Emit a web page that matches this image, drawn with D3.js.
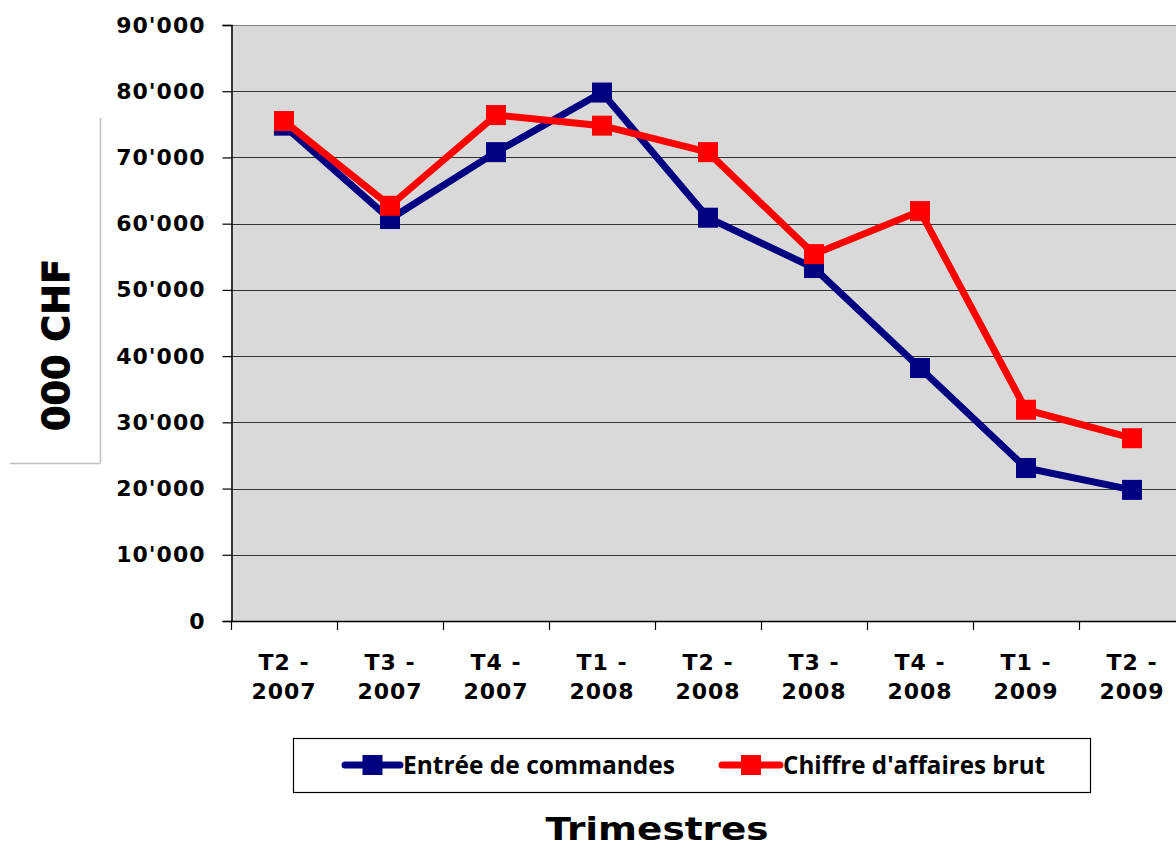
<!DOCTYPE html>
<html>
<head>
<meta charset="utf-8">
<script src="https://cdn.jsdelivr.net/npm/d3@7"></script>
<style>
  body { margin: 0; background: #fff; }
  svg { display: block; }
</style>
</head>
<body>
<div id="chart"></div>
<script>
var categories = [['T2 -', '2007'], ['T3 -', '2007'], ['T4 -', '2007'], ['T1 -', '2008'],
                  ['T2 -', '2008'], ['T3 -', '2008'], ['T4 -', '2008'], ['T1 -', '2009'], ['T2 -', '2009']];
var entreeCommandes = [74800, 60700, 70800, 79800, 60900, 53300, 38200, 23100, 19800];
var chiffreAffaires = [75500, 62700, 76400, 74800, 70800, 55400, 61900, 31900, 27600];
var yTicks = [0, 10000, 20000, 30000, 40000, 50000, 60000, 70000, 80000, 90000];
var seriesNames = ['Entrée de commandes', "Chiffre d'affaires brut"];
var seriesColors = ['#000080', '#ff0000'];

var width = 1176, height = 850;
var plot = {left: 231, top: 25, right: 1185, bottom: 621};

var svg = d3.select('#chart').append('svg')
    .attr('width', width)
    .attr('height', height);

var keys = categories.map(function(d, i) { return i; });
var x = d3.scaleBand().domain(keys).range([plot.left, plot.right]);
var y = d3.scaleLinear().domain([0, 90000]).range([plot.bottom, plot.top]);

// plot background
svg.append('rect')
    .attr('x', plot.left).attr('y', plot.top)
    .attr('width', plot.right - plot.left).attr('height', plot.bottom - plot.top)
    .attr('fill', '#d9d9d9');

// gridlines
svg.append('g').selectAll('line')
    .data(yTicks.filter(function(d) { return d > 0; }))
    .enter().append('line')
    .attr('x1', plot.left).attr('x2', plot.right)
    .attr('y1', function(d) { return Math.round(y(d)) + 0.5; })
    .attr('y2', function(d) { return Math.round(y(d)) + 0.5; })
    .attr('stroke', function(d) { return d === 90000 ? '#808080' : '#333'; })
    .attr('stroke-width', 1.2);

// y axis
var fmt = function(d) { return d === 0 ? '0' : d3.format(',')(d).replace(/,/g, "'"); };
var yAxis = svg.append('g')
    .attr('transform', 'translate(' + (plot.left + 0.5) + ',0)')
    .call(d3.axisLeft(y).tickValues(yTicks).tickSize(9).tickPadding(17).tickFormat(fmt));
yAxis.select('.domain').attr('stroke', '#000').attr('stroke-width', 1.5);
yAxis.selectAll('.tick line').attr('stroke', '#000').attr('stroke-width', 1.2);
yAxis.selectAll('.tick text')
    .attr('fill', '#000')
    .style('font-family', 'DejaVu Sans')
    .style('font-weight', 'bold')
    .style('font-size', '22px')
    .style('letter-spacing', '1px');

// x axis (ticks on band boundaries)
var xg = svg.append('g');
xg.append('line')
    .attr('x1', plot.left).attr('x2', plot.right)
    .attr('y1', plot.bottom + 0.5).attr('y2', plot.bottom + 0.5)
    .attr('stroke', '#000').attr('stroke-width', 1.5);
xg.selectAll('.xtick')
    .data(keys)
    .enter().append('line')
    .attr('class', 'xtick')
    .attr('x1', function(d) { return Math.round(x(d)) + 0.5; })
    .attr('x2', function(d) { return Math.round(x(d)) + 0.5; })
    .attr('y1', plot.bottom).attr('y2', plot.bottom + 9)
    .attr('stroke', '#000').attr('stroke-width', 1.2);
var xl = xg.selectAll('.xlabel')
    .data(categories)
    .enter().append('text')
    .attr('class', 'xlabel')
    .attr('text-anchor', 'middle')
    .style('font-family', 'DejaVu Sans')
    .style('font-weight', 'bold')
    .style('font-size', '22px')
    .style('letter-spacing', '1px');
xl.append('tspan')
    .attr('x', function(d, i) { return x(i) + x.bandwidth() / 2; })
    .attr('y', 670)
    .text(function(d) { return d[0]; });
xl.append('tspan')
    .attr('x', function(d, i) { return x(i) + x.bandwidth() / 2; })
    .attr('y', 699)
    .text(function(d) { return d[1]; });

// y title with its partial frame
svg.append('line').attr('x1', 100.5).attr('x2', 100.5).attr('y1', 118).attr('y2', 463)
    .attr('stroke', '#c0c0c0').attr('stroke-width', 1.5);
svg.append('line').attr('x1', 10).attr('x2', 100.5).attr('y1', 463.5).attr('y2', 463.5)
    .attr('stroke', '#c0c0c0').attr('stroke-width', 1.5);
svg.append('text')
    .attr('transform', 'translate(69,345) rotate(-90)')
    .attr('text-anchor', 'middle')
    .attr('textLength', 172)
    .attr('lengthAdjust', 'spacingAndGlyphs')
    .style('font-family', 'DejaVu Sans')
    .style('font-weight', 'bold')
    .style('font-size', '38px')
    .style('stroke', '#000')
    .style('stroke-width', '1px')
    .text('000 CHF');

// series
var line = d3.line()
    .x(function(d, i) { return x(i) + x.bandwidth() / 2; })
    .y(function(d) { return y(d); });

var allSeries = [entreeCommandes, chiffreAffaires];
allSeries.forEach(function(values, s) {
  var g = svg.append('g');
  g.append('path')
      .datum(values)
      .attr('fill', 'none')
      .attr('stroke', seriesColors[s])
      .attr('stroke-width', 7)
      .attr('stroke-linejoin', 'miter')
      .attr('d', line);
  g.selectAll('rect')
      .data(values)
      .enter().append('rect')
      .attr('x', function(d, i) { return x(i) + x.bandwidth() / 2 - 10; })
      .attr('y', function(d) { return y(d) - 10; })
      .attr('width', 20).attr('height', 20)
      .attr('fill', seriesColors[s]);
});

// legend
var legend = svg.append('g');
legend.append('rect')
    .attr('x', 293.5).attr('y', 738.5).attr('width', 797).attr('height', 54)
    .attr('fill', '#fff').attr('stroke', '#000').attr('stroke-width', 1.2);
var legendItems = [
  {x1: 345, x2: 400, tx: 403, tl: 272},
  {x1: 722, x2: 780, tx: 783, tl: 262}
];
legendItems.forEach(function(it, s) {
  legend.append('line')
      .attr('x1', it.x1).attr('x2', it.x2).attr('y1', 765).attr('y2', 765)
      .attr('stroke', seriesColors[s]).attr('stroke-width', 7)
      .attr('stroke-linecap', 'round');
  legend.append('rect')
      .attr('x', (it.x1 + it.x2) / 2 - 10).attr('y', 755)
      .attr('width', 20).attr('height', 20)
      .attr('fill', seriesColors[s]);
  legend.append('text')
      .attr('x', it.tx).attr('y', 774)
      .attr('textLength', it.tl)
      .attr('lengthAdjust', 'spacingAndGlyphs')
      .style('font-family', 'Open Sans')
      .style('font-weight', 'bold')
      .style('font-size', '25px')
      .text(seriesNames[s]);
});

// x title
svg.append('text')
    .attr('x', 657).attr('y', 840)
    .attr('text-anchor', 'middle')
    .attr('textLength', 223)
    .attr('lengthAdjust', 'spacingAndGlyphs')
    .style('font-family', 'DejaVu Sans')
    .style('font-weight', 'bold')
    .style('font-size', '32px')
    .text('Trimestres');
</script>
</body>
</html>
